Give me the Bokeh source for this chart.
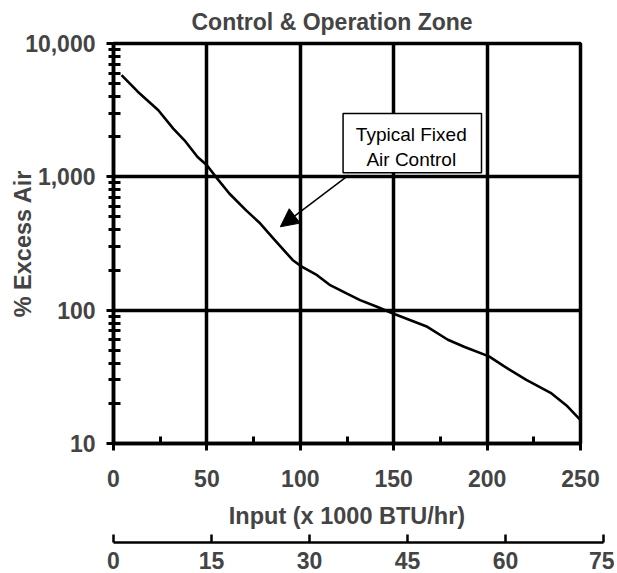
from bokeh.plotting import figure
from bokeh.models import FixedTicker, NumeralTickFormatter, Arrow, NormalHead, Range1d
from bokeh.layouts import column
from bokeh.embed import file_html
from bokeh.resources import INLINE
from bokeh.core.properties import value

# ---- data ----
input_kbtu = [4.3, 13, 24, 32, 38, 45, 50, 55, 62, 71, 78, 86, 96, 101, 109, 116,
              125, 132, 141, 150, 159, 168, 179, 188, 201, 209, 221, 234, 243, 250]
excess_air = [5800, 4350, 3160, 2300, 1880, 1410, 1220, 990, 750, 560, 455, 340, 237,
              211, 183, 154, 133, 119, 106, 94, 84, 75, 60, 53, 45, 38, 30, 24, 19, 15]
x_ticks = [0, 50, 100, 150, 200, 250]
x_minor_ticks = [25, 75, 125, 175, 225]
y_ticks = [10, 100, 1000, 10000]
kw_ticks = [0, 15, 30, 45, 60, 75]
title_text = "Control & Operation Zone"
x_label = "Input (x 1000 BTU/hr)"
y_label = "% Excess Air"
note_lines = ["Typical Fixed", "Air Control"]

FONT = "Liberation Sans"
y_minor_ticks = [m * 10 ** k for k in range(1, 4) for m in range(2, 10)]

p = figure(frame_width=467, frame_height=400, x_range=(0, 250), y_range=(10, 10000),
           y_axis_type="log", output_backend="svg", toolbar_location=None,
           min_border_left=113, min_border_top=43, min_border_right=30,
           min_border_bottom=90, background_fill_color="white",
           border_fill_color="white")

p.title.text = title_text
p.title.align = "left"
p.title.offset = 78
p.title.vertical_align = "top"
p.title.standoff = 14
p.title.text_font = FONT
p.title.text_font_size = "23px"
p.title.text_font_style = "bold"

p.outline_line_color = "black"
p.outline_line_width = 3.5

for g in (p.xgrid, p.ygrid):
    g.grid_line_color = "black"
    g.grid_line_width = 3.5

# x axis
xa = p.xaxis[0]
xa.ticker = FixedTicker(ticks=x_ticks, minor_ticks=x_minor_ticks)
xa.axis_line_width = 3.5
xa.major_tick_line_width = 3
xa.major_tick_in = 7
xa.major_tick_out = 7
xa.minor_tick_line_width = 3
xa.minor_tick_in = 7
xa.minor_tick_out = 0
xa.major_label_standoff = 19
xa.major_label_text_font = FONT
xa.major_label_text_font_size = "23px"
xa.major_label_text_font_style = "bold"
xa.axis_label = x_label
xa.axis_label_text_font = FONT
xa.axis_label_text_font_size = "23.5px"
xa.axis_label_text_font_style = "bold"
xa.axis_label_standoff = 13

# y axis
ya = p.yaxis[0]
ya.ticker = FixedTicker(ticks=y_ticks, minor_ticks=y_minor_ticks)
ya.formatter = NumeralTickFormatter(format="0,0")
ya.axis_line_width = 3.5
ya.major_tick_line_width = 3
ya.major_tick_in = 0
ya.major_tick_out = 7
ya.minor_tick_line_width = 3
ya.minor_tick_in = 7
ya.minor_tick_out = 5
ya.major_label_standoff = 11
ya.major_label_text_font = FONT
ya.major_label_text_font_size = "23px"
ya.major_label_text_font_style = "bold"
ya.axis_label = y_label
ya.axis_label_text_font = FONT
ya.axis_label_text_font_size = "23.5px"
ya.axis_label_text_font_style = "bold"
ya.axis_label_standoff = -14

# curve
p.line(input_kbtu, excess_air, line_color="black", line_width=2.6)

# annotation box
p.quad(left=[122.9], right=[197.0], top=[2990], bottom=[1072],
       fill_color="white", line_color="black", line_width=1.5)
p.text(x=[159.4, 159.4], y=[2080, 1346], text=note_lines,
       text_align="center", text_baseline="alphabetic",
       text_font=value(FONT), text_font_size="19px", text_color="black")
p.add_layout(Arrow(end=NormalHead(size=18, fill_color="black", line_color="black"),
                   x_start=125.9, y_start=1031, x_end=89.3, y_end=422,
                   line_color="black", line_width=1.5))

# secondary axis (kW scale)
p2 = figure(frame_width=490, frame_height=9, x_range=Range1d(0, 75), y_range=Range1d(0, 1),
            y_axis_location=None, output_backend="svg", toolbar_location=None,
            min_border_left=112, min_border_right=12, min_border_top=0,
            min_border_bottom=30, outline_line_color=None,
            background_fill_color="white", border_fill_color="white")
p2.grid.visible = False
p2.scatter(kw_ticks, [0.5] * len(kw_ticks), alpha=0)
xa2 = p2.xaxis[0]
xa2.ticker = FixedTicker(ticks=kw_ticks)
xa2.axis_line_width = 2.5
xa2.major_tick_line_width = 2.5
xa2.major_tick_in = 8
xa2.major_tick_out = 0
xa2.minor_tick_line_color = None
xa2.major_label_standoff = 9
xa2.major_label_text_font = FONT
xa2.major_label_text_font_size = "23px"
xa2.major_label_text_font_style = "bold"

layout = column(p, p2)
open("out.html", "w").write(file_html(layout, INLINE))
